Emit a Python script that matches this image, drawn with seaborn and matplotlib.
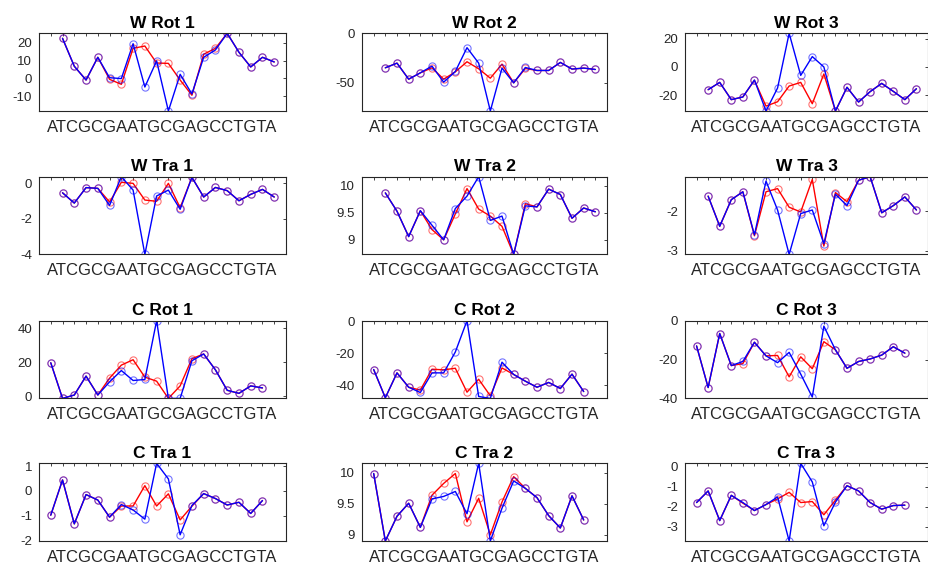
import numpy as np
import pandas as pd
import matplotlib
matplotlib.use("Agg")
import matplotlib.pyplot as plt
import seaborn as sns
from matplotlib.ticker import MultipleLocator, FormatStrFormatter

sns.set_theme(style="white")
plt.rcParams["font.family"] = ["Liberation Sans", "DejaVu Sans"]
plt.rcParams["axes.unicode_minus"] = False

sequence = "ATCGCGAATGCGAGCCTGTA"
titles = ["W Rot 1", "W Rot 2", "W Rot 3",
          "W Tra 1", "W Tra 2", "W Tra 3",
          "C Rot 1", "C Rot 2", "C Rot 3",
          "C Tra 1", "C Tra 2", "C Tra 3"]

# ---- data (red series drawn first, blue on top) ----
w_rot1_red  = [22.4, 6.8, -0.9, 11.8, -0.5, -3.3, 16.8, 18.1, 8.6, 8.4, -0.9, -9.4, 13.5, 16.8, 25.2, 14.6, 6.4, 11.8, 9.2]
w_rot1_blue = [22.4, 6.8, -0.9, 11.8, 0.4, -0.1, 19.4, -4.8, 9.8, -18.2, 2.3, -8.7, 11.8, 15.9, 25.2, 14.6, 6.4, 11.8, 9.2]

w_rot2_red  = [-34.8, -30.1, -46.3, -39.9, -34.8, -46.3, -38.9, -28.7, -35.8, -45.3, -31.1, -50.0, -35.5, -37.5, -37.5, -29.4, -36.1, -35.1, -36.5]
w_rot2_blue = [-34.8, -30.1, -46.3, -39.9, -33.1, -49.3, -38.5, -14.5, -30.1, -78.4, -35.1, -50.0, -34.5, -37.5, -37.5, -29.4, -36.1, -35.1, -36.5]

w_rot3_red  = [-16.2, -11.0, -23.3, -21.4, -9.5, -27.9, -24.8, -13.6, -11.0, -26.2, -5.0, -31.4, -14.5, -25.0, -17.6, -11.7, -17.4, -23.3, -15.5]
w_rot3_blue = [-16.2, -11.0, -23.3, -21.4, -9.3, -31.4, -15.0, 24.0, -6.0, 7.4, 0.0, -31.4, -14.5, -25.0, -17.6, -11.7, -17.4, -23.3, -15.5]

w_tra1_red  = [-0.53, -1.11, -0.24, -0.28, -1.05, 0.06, 0.0, -0.94, -1.01, 0.0, -1.37, 0.34, -0.77, -0.23, -0.41, -0.98, -0.62, -0.34, -0.77]
w_tra1_blue = [-0.53, -1.11, -0.24, -0.28, -1.24, 0.38, -0.38, -4.0, -0.71, -0.38, -1.46, 0.34, -0.77, -0.23, -0.41, -0.98, -0.62, -0.34, -0.77]

w_tra2_red  = [9.87, 9.53, 9.06, 9.54, 9.19, 9.00, 9.48, 9.95, 9.57, 9.44, 9.25, 8.73, 9.67, 9.61, 9.94, 9.84, 9.40, 9.59, 9.52]
w_tra2_blue = [9.87, 9.53, 9.06, 9.54, 9.27, 9.00, 9.58, 9.81, 10.17, 9.36, 9.44, 8.73, 9.63, 9.61, 9.94, 9.84, 9.40, 9.59, 9.52]

w_tra3_red  = [-1.62, -2.38, -1.71, -1.51, -2.62, -1.51, -1.43, -1.90, -2.02, -1.20, -2.88, -1.53, -1.76, -1.22, -1.13, -2.04, -1.86, -1.64, -1.97]
w_tra3_blue = [-1.62, -2.38, -1.71, -1.51, -2.60, -1.24, -1.97, -3.09, -2.06, -1.97, -2.82, -1.57, -1.86, -1.22, -1.13, -2.04, -1.86, -1.64, -1.97]

c_rot1_red  = [19.7, -1.4, 0.6, 11.8, 0.6, 10.6, 18.3, 21.5, 11.2, 8.8, -1.4, 6.0, 22.1, 24.9, 15.5, 3.4, 1.6, 6.0, 4.8]
c_rot1_blue = [19.7, -1.4, 0.6, 11.8, 0.6, 8.4, 15.1, 9.2, 9.8, 44.6, -1.4, -1.4, 20.9, 24.9, 15.5, 3.4, 1.6, 6.0, 4.8]

c_rot2_red  = [-30.2, -47.9, -32.3, -41.3, -43.1, -30.0, -30.4, -29.4, -44.4, -36.3, -46.7, -29.2, -33.3, -37.5, -41.3, -38.3, -42.1, -33.1, -44.0]
c_rot2_blue = [-30.2, -47.9, -32.3, -41.3, -44.6, -32.3, -32.3, -19.2, 0.4, -47.1, -48.3, -25.6, -33.3, -37.5, -41.3, -38.3, -42.1, -33.1, -44.0]

c_rot3_red  = [-13.0, -34.4, -6.6, -23.1, -22.1, -11.1, -18.1, -17.9, -28.9, -18.6, -24.7, -10.8, -15.0, -24.5, -21.0, -19.7, -17.7, -13.4, -16.7]
c_rot3_blue = [-13.0, -34.4, -6.6, -23.1, -21.0, -11.1, -18.1, -21.6, -16.3, -27.5, -39.3, -2.8, -15.0, -24.5, -21.0, -19.7, -17.7, -13.4, -16.7]

c_tra1_red  = [-0.98, 0.44, -1.33, -0.15, -0.37, -1.06, -0.61, -0.61, 0.21, -0.61, -0.12, -1.17, -0.62, -0.11, -0.31, -0.57, -0.46, -0.91, -0.39]
c_tra1_blue = [-0.98, 0.44, -1.33, -0.15, -0.37, -1.06, -0.55, -0.77, -1.14, 1.11, 0.48, -1.77, -0.59, -0.11, -0.31, -0.57, -0.46, -0.91, -0.39]

c_tra2_red  = [9.99, 8.90, 9.30, 9.51, 9.12, 9.64, 9.83, 9.99, 9.21, 9.59, 9.00, 9.53, 9.94, 9.75, 9.60, 9.31, 9.11, 9.63, 9.24]
c_tra2_blue = [9.99, 8.90, 9.30, 9.51, 9.12, 9.58, 9.62, 9.70, 9.34, 10.155, 8.90, 9.43, 9.87, 9.75, 9.60, 9.31, 9.11, 9.63, 9.24]

c_tra3_red  = [-1.79, -1.21, -2.69, -1.43, -1.82, -2.19, -1.89, -1.61, -1.28, -1.79, -1.74, -2.40, -1.67, -0.95, -1.21, -1.79, -2.12, -1.94, -1.92]
c_tra3_blue = [-1.79, -1.21, -2.69, -1.43, -1.79, -2.19, -1.89, -1.51, -3.71, 0.17, -0.76, -2.95, -1.77, -0.95, -1.21, -1.79, -2.12, -1.94, -1.92]

red_series = [w_rot1_red, w_rot2_red, w_rot3_red, w_tra1_red, w_tra2_red, w_tra3_red,
              c_rot1_red, c_rot2_red, c_rot3_red, c_tra1_red, c_tra2_red, c_tra3_red]
blue_series = [w_rot1_blue, w_rot2_blue, w_rot3_blue, w_tra1_blue, w_tra2_blue, w_tra3_blue,
               c_rot1_blue, c_rot2_blue, c_rot3_blue, c_tra1_blue, c_tra2_blue, c_tra3_blue]

# first step position of each panel (W strands start one step later)
start_pos = [2, 2, 2, 2, 2, 2, 1, 1, 1, 1, 1, 1]

# ---- axis settings ----
ylims = [(-18.2, 25.2), (-78.4, 0.0), (-31.4, 24.0),
         (-4.0, 0.375), (8.73, 10.17), (-3.09, -1.13),
         (-1.4, 44.6), (-48.3, 0.4), (-40.0, 0.0),
         (-2.02, 1.11), (8.9, 10.155), (-3.71, 0.17)]
ysteps = [10, 50, 20, 2, 0.5, 1, 20, 20, 20, 1, 0.5, 1]

W, H = 929, 566
fig = plt.figure(figsize=(W / 100, H / 100), dpi=100)

col_left = [39, 362, 685]
col_width = [247, 245, 243]
row_top = [33.3, 176.7, 320.7, 463.3]
ax_h = 77.7

dark = (0.15, 0.15, 0.15)

for i, title in enumerate(titles):
    r, c = divmod(i, 3)
    ax = fig.add_axes([col_left[c] / W, 1 - (row_top[r] + ax_h) / H,
                       col_width[c] / W, ax_h / H])
    pos = np.arange(len(red_series[i])) + start_pos[i]
    df = pd.DataFrame({"pos": pos, "red": red_series[i], "blue": blue_series[i]})
    sns.lineplot(data=df, x="pos", y="red", ax=ax, color="red", linewidth=1.0,
                 marker="o", markersize=5.2, markerfacecolor="none",
                 markeredgecolor=(1, 0, 0, 0.55), markeredgewidth=0.8)
    sns.lineplot(data=df, x="pos", y="blue", ax=ax, color="blue", linewidth=1.0,
                 marker="o", markersize=5.2, markerfacecolor="none",
                 markeredgecolor=(0, 0, 1, 0.55), markeredgewidth=0.8)
    ax.set_xlim(0, 21)
    ax.set_ylim(*ylims[i])
    ax.set_xticks(np.arange(0, 22))
    ax.set_xticklabels([])
    ax.yaxis.set_major_locator(MultipleLocator(ysteps[i]))
    ax.yaxis.set_major_formatter(FormatStrFormatter("%g"))
    ax.tick_params(axis="both", direction="in", length=2.5, width=0.6, color=dark,
                   top=True, right=True, labelsize=9.5, labelcolor=dark, pad=5)
    for s in ax.spines.values():
        s.set_color(dark)
        s.set_linewidth(0.8)
    ax.set_ylabel("")
    ax.set_xlabel(sequence, fontsize=12, color=dark)
    ax.xaxis.set_label_coords(0.5, -0.11)
    ax.set_title(title, fontsize=12.5, fontweight="bold", pad=4, color="black")

fig.savefig("out.png", dpi=100)
